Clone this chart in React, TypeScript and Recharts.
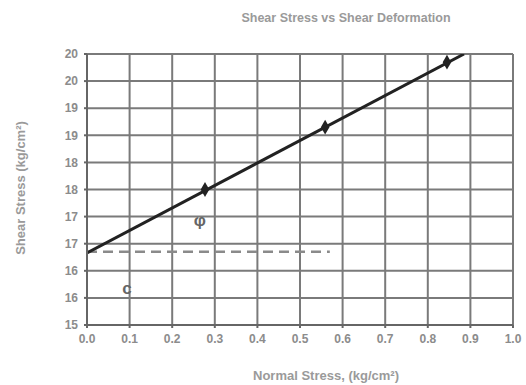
import React from "react";
import {
  ComposedChart,
  Line,
  Scatter,
  XAxis,
  YAxis,
  CartesianGrid,
  ReferenceDot,
} from "recharts";

// Normal stress ticks (kg/cm²)
const xTicks = [0, 0.1, 0.2, 0.3, 0.4, 0.5, 0.6, 0.7, 0.8, 0.9, 1.0];
// Shear stress ticks (kg/cm²)
const yTicks = [15, 15.5, 16, 16.5, 17, 17.5, 18, 18.5, 19, 19.5, 20];

// Failure envelope (trend line)
const envelopeX = [0, 0.885];
const envelopeY = [16.33, 20.0];

// Test points
const testX = [0.277, 0.559, 0.845];
const testY = [17.5, 18.65, 19.85];

// Cohesion dashed line
const cohesionX = [0, 0.57];
const cohesionY = [16.35, 16.35];

// Annotations
const annoText = ["φ", "c"];
const annoX = [0.265, 0.094];
const annoY = [16.94, 15.68];

const envelope = envelopeX.map((x, i) => ({ x, y: envelopeY[i] }));
const tests = testX.map((x, i) => ({ x, y: testY[i] }));
const cohesion = cohesionX.map((x, i) => ({ x, y: cohesionY[i] }));

const gray = "#8c8c8c";
const font = "Arial, 'Liberation Sans', sans-serif";

export default function App() {
  return (
    <div style={{ position: "relative", width: 526, height: 385, fontFamily: font }}>
      <style>{`body{margin:0}`}</style>
      <div
        style={{
          position: "absolute",
          top: 11,
          left: 226,
          width: 240,
          textAlign: "center",
          fontSize: 12.5,
          fontWeight: "bold",
          color: "#9a9a9a",
          whiteSpace: "nowrap",
        }}
      >
        Shear Stress vs Shear Deformation
      </div>
      <div
        style={{
          position: "absolute",
          top: 368,
          left: 222,
          width: 208,
          textAlign: "center",
          fontSize: 13,
          fontWeight: "bold",
          color: "#9a9a9a",
          whiteSpace: "nowrap",
        }}
      >
        Normal Stress, (kg/cm²)
      </div>
      <div
        style={{
          position: "absolute",
          left: 20,
          top: 188,
          transform: "translate(-50%, -50%) rotate(-90deg)",
          fontSize: 13,
          fontWeight: "bold",
          color: "#9a9a9a",
          whiteSpace: "nowrap",
        }}
      >
        Shear Stress (kg/cm²)
      </div>
      <ComposedChart
        width={526}
        height={385}
        margin={{ top: 54, right: 13, bottom: 30, left: 0 }}
        style={{ position: "absolute", left: 0, top: 0 }}
      >
        <CartesianGrid
          stroke="#7a7a7a"
          strokeWidth={2}
          horizontalValues={yTicks}
          verticalValues={xTicks}
        />
        <XAxis
          dataKey="x"
          type="number"
          domain={[0, 1]}
          ticks={xTicks}
          allowDataOverflow
          tickFormatter={(v: number) => v.toFixed(1)}
          height={30}
          stroke="#666"
          strokeWidth={2}
          tickSize={3}
          tickMargin={6}
          tick={{ fill: gray, fontSize: 12, fontWeight: "bold" }}
        />
        <YAxis
          dataKey="y"
          type="number"
          domain={[15, 20]}
          ticks={yTicks}
          allowDataOverflow
          tickFormatter={(v: number) => String(Math.round(v))}
          width={87}
          stroke="#666"
          strokeWidth={2}
          tickSize={3}
          tickMargin={6}
          tick={{ fill: gray, fontSize: 12, fontWeight: "bold" }}
        />
        <Line
          data={cohesion}
          dataKey="y"
          type="linear"
          stroke="#8a8a8a"
          strokeWidth={2.5}
          strokeDasharray="10 6"
          dot={false}
          isAnimationActive={false}
        />
        <Line
          data={envelope}
          dataKey="y"
          type="linear"
          stroke="#222"
          strokeWidth={3}
          dot={false}
          isAnimationActive={false}
        />
        <Scatter
          data={tests}
          dataKey="y"
          fill="#222"
          shape="diamond"
          size={40}
          isAnimationActive={false}
        />
        {annoText.map((t, i) => (
          <ReferenceDot
            key={t}
            x={annoX[i]}
            y={annoY[i]}
            r={0}
            stroke="none"
            fill="none"
            label={{
              value: t,
              position: "center",
              fill: "#666",
              fontSize: 17,
              fontWeight: "bold",
            }}
          />
        ))}
      </ComposedChart>
    </div>
  );
}
